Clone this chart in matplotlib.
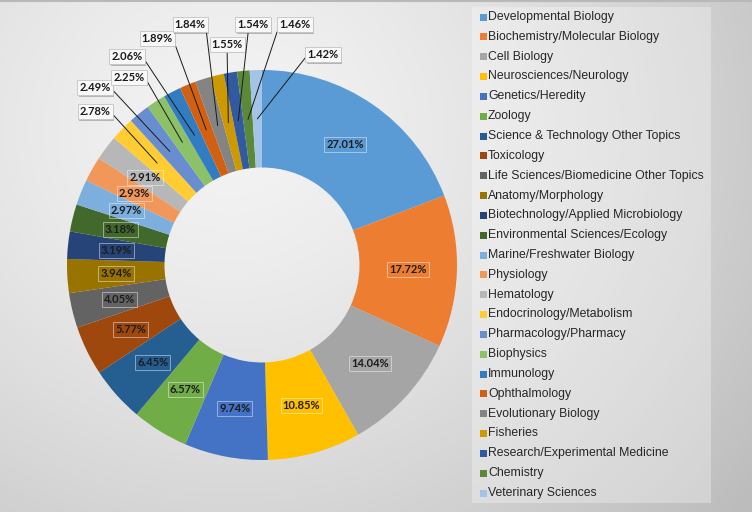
import matplotlib.pyplot as plt
import numpy as np
import matplotlib.patheffects as pe
from matplotlib.patches import Rectangle
from matplotlib.lines import Line2D

categories = [
    "Developmental Biology", "Biochemistry/Molecular Biology", "Cell Biology",
    "Neurosciences/Neurology", "Genetics/Heredity", "Zoology",
    "Science & Technology Other Topics", "Toxicology",
    "Life Sciences/Biomedicine Other Topics", "Anatomy/Morphology",
    "Biotechnology/Applied Microbiology", "Environmental Sciences/Ecology",
    "Marine/Freshwater Biology", "Physiology", "Hematology",
    "Endocrinology/Metabolism", "Pharmacology/Pharmacy", "Biophysics",
    "Immunology", "Ophthalmology", "Evolutionary Biology", "Fisheries",
    "Research/Experimental Medicine", "Chemistry", "Veterinary Sciences",
]
shares = [27.01, 17.72, 14.04, 10.85, 9.74, 6.57, 6.45, 5.77, 4.05, 3.94,
          3.19, 3.18, 2.97, 2.93, 2.91, 2.78, 2.49, 2.25, 2.06, 1.89,
          1.84, 1.55, 1.54, 1.46, 1.42]
colors = [
    "#5B9BD5", "#ED7D31", "#A5A5A5", "#FFC000", "#4472C4", "#70AD47",
    "#255E91", "#9E480E", "#636363", "#997300", "#264478", "#43682B",
    "#7CAFDD", "#F1975A", "#B7B7B7", "#FFCD33", "#698ED0", "#8CC168",
    "#327DC2", "#D26012", "#848484", "#CC9A00", "#335AA1", "#5A8A39",
    "#A3C4E6",
]

# where the small slices get their labels (radius 1 = outer edge of the ring)
outside = {
    15: (-0.856, 0.785), 16: (-0.856, 0.908), 17: (-0.682, 0.964),
    18: (-0.692, 1.067), 19: (-0.538, 1.164), 20: (-0.369, 1.231),
    21: (-0.179, 1.133), 22: (-0.046, 1.231), 23: (0.169, 1.231),
    24: (0.313, 1.077),
}

W, H = 752, 512
fig = plt.figure(figsize=(W / 100, H / 100), dpi=100)

# grey gradient background
bg = fig.add_axes([0, 0, 1, 1], zorder=-10)
yy, xx = np.mgrid[0:H, 0:W]
d = np.hypot(xx - 230, (yy - 130) * 1.1) / 620.0
shade = np.clip(0.955 - 0.2 * d ** 1.4, 0.74, 0.96)
bg.imshow(np.dstack([shade] * 3), aspect="auto", extent=[0, W, H, 0])
bg.plot([0, W], [0.6, 0.6], color="#b8b8b8", lw=1.5)
bg.set_xlim(0, W)
bg.set_ylim(H, 0)
bg.axis("off")

cx, cy, R = 262, 265, 195
ax = fig.add_axes([(cx - R) / W, (H - cy - R) / H, 2 * R / W, 2 * R / H])
ax.set_facecolor("none")
wedges, _ = ax.pie(shares, colors=colors, startangle=90, counterclock=False,
                   radius=1, wedgeprops=dict(width=0.5, edgecolor="none"))
ax.set_xlim(-1, 1)
ax.set_ylim(-1, 1)
ax.set_aspect("equal")
ax.axis("off")

label_font = dict(family=["Lato", "DejaVu Sans"], fontsize=8, fontweight="bold")

for i, w in enumerate(wedges):
    t = np.deg2rad((w.theta1 + w.theta2) / 2)
    px, py = 0.75 * np.cos(t), 0.75 * np.sin(t)
    txt = "%.2f%%" % shares[i]
    if i in outside:
        lx, ly = outside[i]
        if abs(lx - px) < 0.03:
            rel = (0.5, 0)
        elif lx < px:
            rel = (1, 0.5)
        elif i == 22:
            rel = (0.35, 0)
        else:
            rel = (0, 0.5)
        a = ax.annotate(txt, xy=(px, py), xytext=(lx, ly), ha="center", va="center",
                        color="#1a1a1a", **label_font,
                        bbox=dict(boxstyle="square,pad=0.18", fc="#f8f8f8",
                                  ec="#c4c4c4", lw=0.6),
                        arrowprops=dict(arrowstyle="-", color="#1a1a1a", lw=0.7,
                                        shrinkA=0, shrinkB=0, relpos=rel))
        a.get_bbox_patch().set_path_effects(
            [pe.SimplePatchShadow(offset=(1.2, -1.2), alpha=0.35), pe.Normal()])
    else:
        ax.text(px, py, txt, ha="center", va="center", color="#1c1c1c", **label_font,
                bbox=dict(boxstyle="square,pad=0.18", fc="none",
                          ec=(1, 1, 1, 0.45), lw=0.7))

# legend panel drawn by hand
fig.patches.append(Rectangle((472 / W, 1 - 503 / H), (711 - 472) / W, 496 / H,
                             transform=fig.transFigure, fc="white", alpha=0.3,
                             ec="none", zorder=-5))
step = (493 - 17) / (len(categories) - 1)
for i, name in enumerate(categories):
    yc = 17 + i * step
    fig.patches.append(Rectangle((479.5 / W, 1 - (yc + 3.5) / H), 7 / W, 7 / H,
                                 transform=fig.transFigure, fc=colors[i], ec="none"))
    fig.text(488 / W, 1 - yc / H, name, ha="left", va="center",
             family="Liberation Sans", fontsize=8.8, color="#262626")

fig.savefig("out.png", dpi=100)
